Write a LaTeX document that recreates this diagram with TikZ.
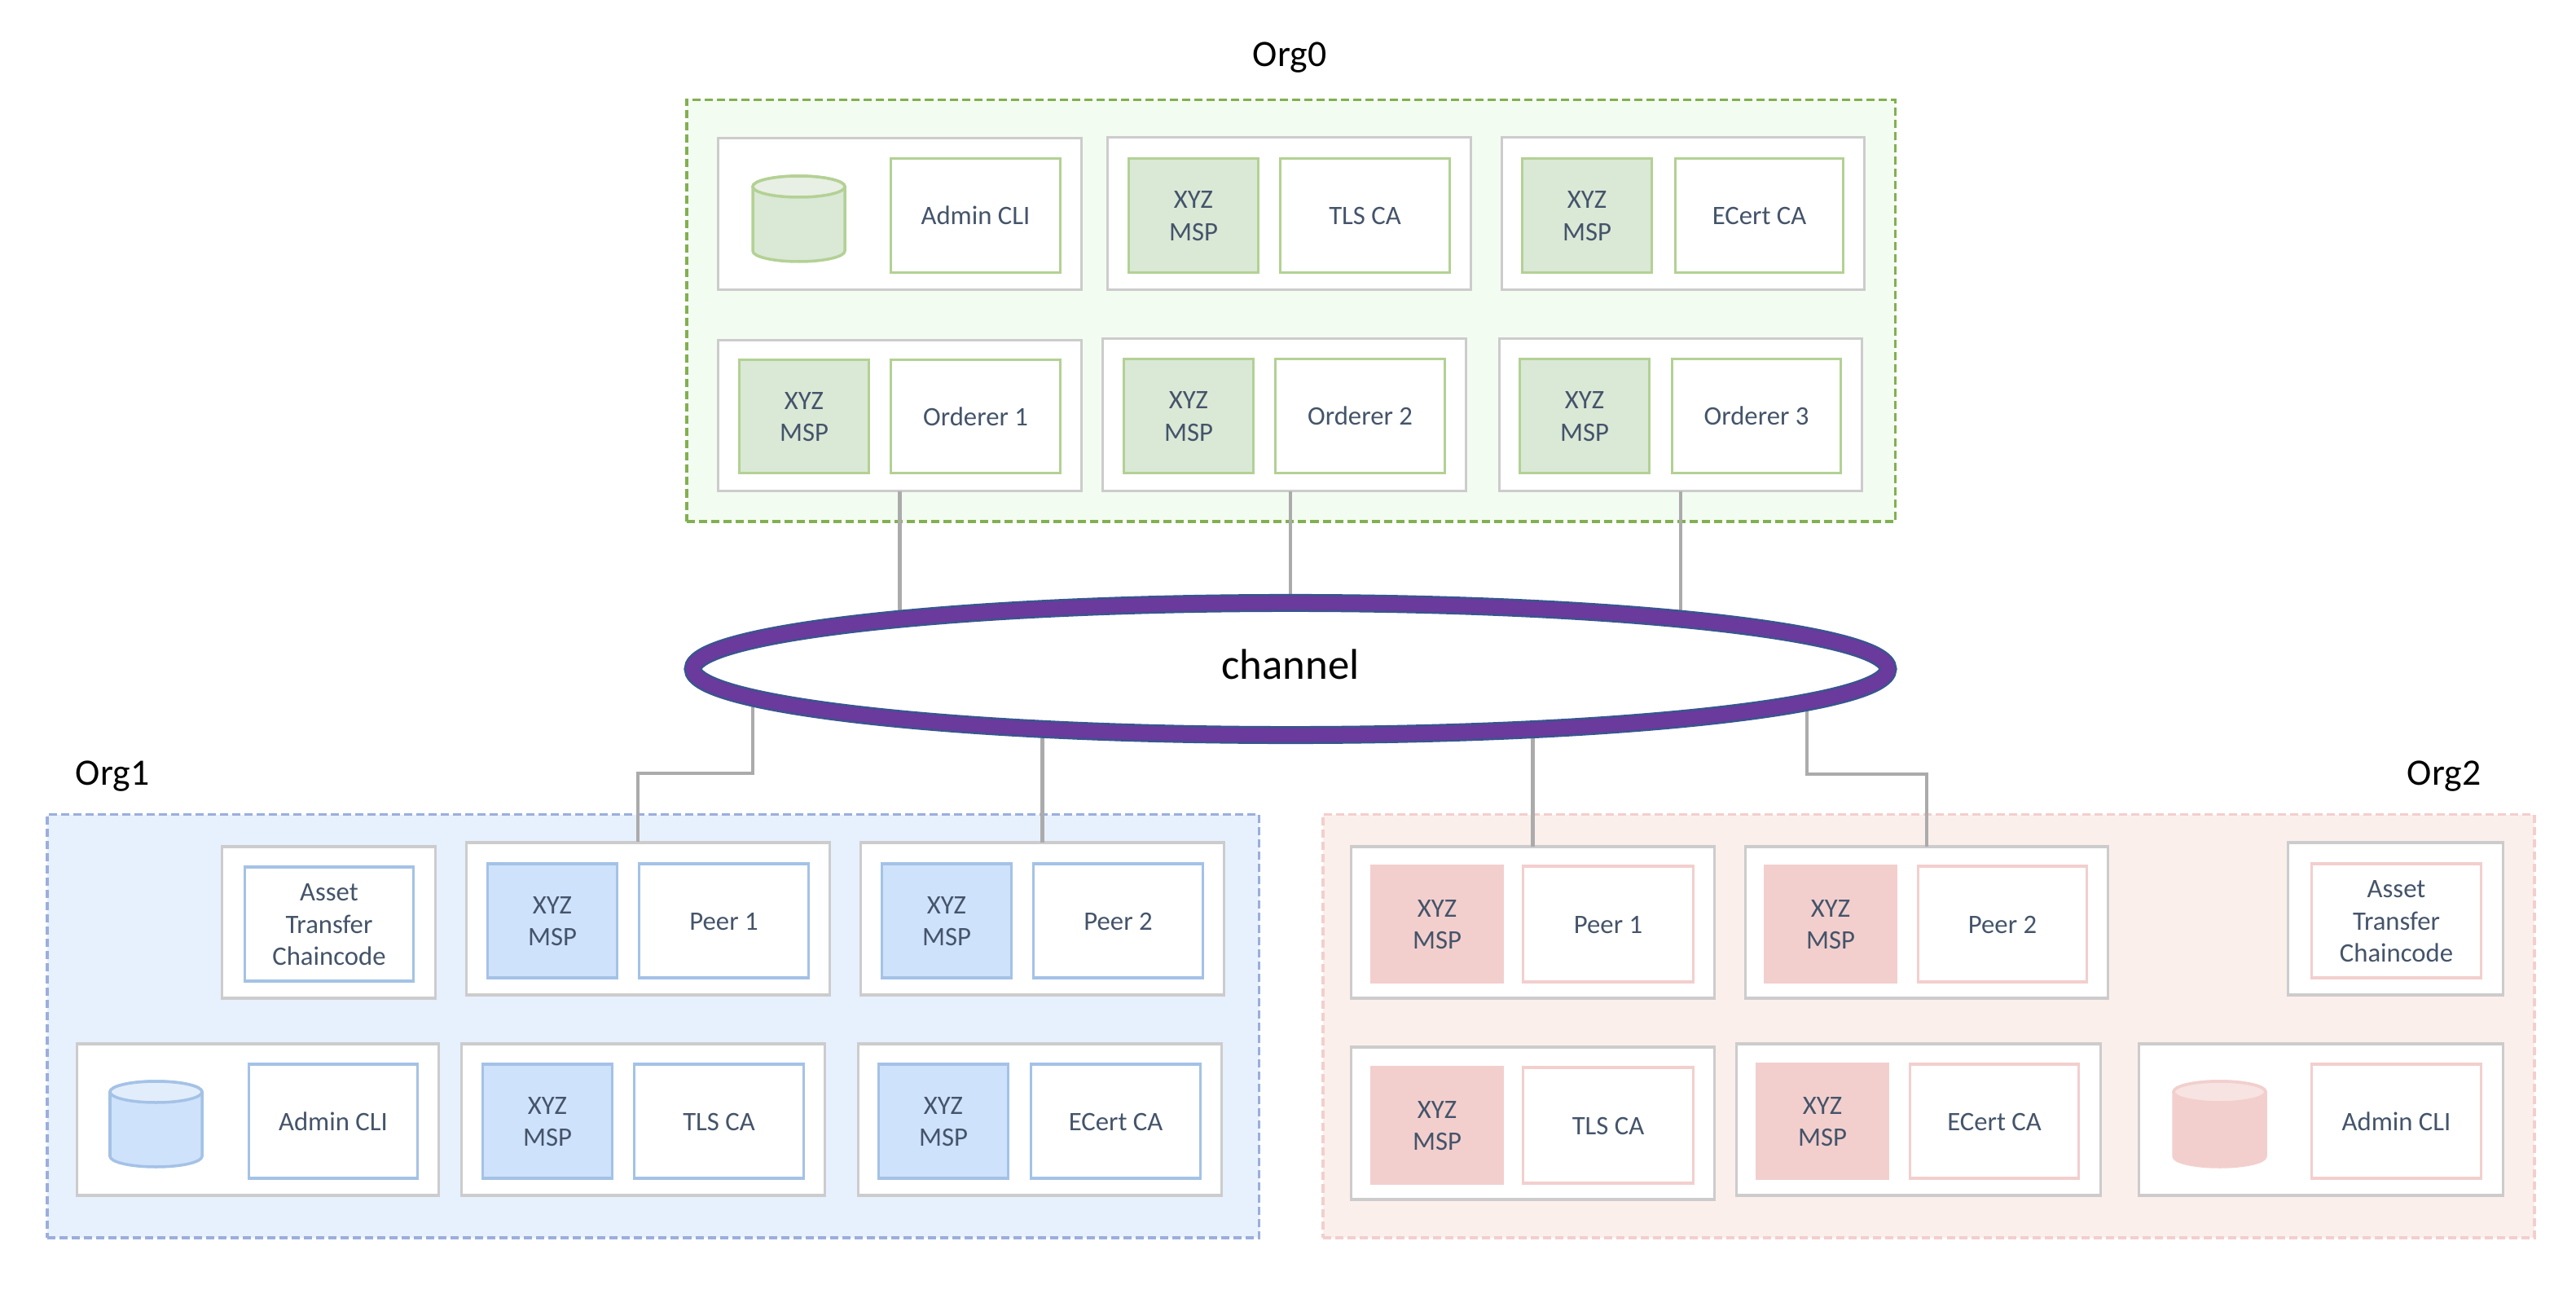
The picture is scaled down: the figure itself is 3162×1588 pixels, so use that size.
\documentclass[tikz,border=0pt]{standalone}
\usepackage{fontspec}
\setmainfont{Carlito}
\usetikzlibrary{shapes.geometric}
\pgfdeclarelayer{back}\pgfdeclarelayer{conn}\pgfdeclarelayer{front}
\pgfsetlayers{back,main,conn,front}
\definecolor{lbl}{HTML}{44546A}
\definecolor{grayb}{HTML}{CCCCCC}
\definecolor{wire}{HTML}{ABABAB}
\definecolor{gcont}{HTML}{F3FCF1}\definecolor{gdash}{HTML}{82B050}\definecolor{gfill}{HTML}{DAE8D6}\definecolor{gline}{HTML}{B3D194}\definecolor{gtop}{HTML}{E8EFE4}
\definecolor{bcont}{HTML}{E7F1FE}\definecolor{bdash}{HTML}{9BAEDC}\definecolor{bfill}{HTML}{CFE2FB}\definecolor{bline}{HTML}{A4C2E6}\definecolor{btop}{HTML}{E2EDFC}
\definecolor{rcont}{HTML}{FBEFEC}\definecolor{rdash}{HTML}{F2CFCD}\definecolor{rfill}{HTML}{F2CFCD}\definecolor{rline}{HTML}{F2CFCD}\definecolor{rtop}{HTML}{F7E3E1}
\definecolor{chanblue}{HTML}{3A5590}\definecolor{chanpurple}{HTML}{6A3A9C}
\tikzset{
  basebox/.style={rectangle,inner sep=0pt,outer sep=0pt,align=center,text=lbl,font=\fontsize{9.3}{11.3}\selectfont},
  outerbox/.style={basebox,draw=grayb,fill=white,line width=0.035cm},
  gwhite/.style={basebox,draw=gline,fill=white,line width=0.035cm},
  gmsp/.style={basebox,draw=gline,fill=gfill,line width=0.035cm},
  bwhite/.style={basebox,draw=bline,fill=white,line width=0.035cm},
  bmsp/.style={basebox,draw=bline,fill=bfill,line width=0.035cm},
  rwhite/.style={basebox,draw=rline,fill=white,line width=0.035cm},
  rmsp/.style={basebox,draw=rline,fill=rfill,line width=0.035cm},
  gorg/.style={basebox,draw=gdash,fill=gcont,line width=0.035cm,dash pattern=on 0.1cm off 0.05cm},
  borg/.style={basebox,draw=bdash,fill=bcont,line width=0.035cm,dash pattern=on 0.1cm off 0.05cm},
  rorg/.style={basebox,draw=rdash,fill=rcont,line width=0.035cm,dash pattern=on 0.1cm off 0.05cm},
  orglabel/.style={anchor=base,text=black,inner sep=0pt,font=\fontsize{13}{15}\selectfont},
  connector/.style={draw=wire,line width=0.045cm,line cap=butt,line join=miter},
  chan/.style={ellipse,inner sep=0pt,minimum width=14.66cm,minimum height=1.62cm,fill=white,draw=chanblue,line width=0.22cm,
     postaction={draw=chanpurple,line width=0.17cm}},
}
\newcommand\dyup{1}
\newcommand\lift[1]{\raisebox{-0.9pt}[\height][\depth]{\begin{tabular}{@{}c@{}}#1\end{tabular}}}
\newcommand\bx[7]{\node[#6,minimum width={(#4-#2-3)*0.01cm},minimum height={(#5-#3-3)*0.01cm}] (#1) at ({(#2+#4)/2},{(#3+#5)/2-\dyup}) {\lift{#7}};}
% cylinder: x0, y0, line colour, fill, top fill
\newcommand\cyl[5]{\begin{scope}[shift={(#1,#2)},line width=0.035cm,draw=#3]
  \filldraw[fill=#4] (0,13) -- (0,92) .. controls (0,99.2) and (25.3,105) .. (56.5,105) .. controls (87.7,105) and (113,99.2) .. (113,92) -- (113,13) .. controls (113,5.8) and (87.7,0) .. (56.5,0) .. controls (25.3,0) and (0,5.8) .. (0,13) -- cycle;
  \filldraw[fill=#5] (0,13) .. controls (0,20.2) and (25.3,26) .. (56.5,26) .. controls (87.7,26) and (113,20.2) .. (113,13) .. controls (113,5.8) and (87.7,0) .. (56.5,0) .. controls (25.3,0) and (0,5.8) .. (0,13) -- cycle;
\end{scope}}
\begin{document}
\begin{tikzpicture}[x=0.01cm,y=-0.01cm]
\useasboundingbox (0,0) rectangle (3162,1588);
\begin{pgfonlayer}{back}
  \bx{orgA}{841.5}{122}{2328}{642.5}{gorg}{}
  \bx{orgB}{56.5}{999}{1547}{1521.5}{borg}{}
  \bx{orgC}{1622.5}{999}{3112.5}{1521.5}{rorg}{}
\end{pgfonlayer}
\node[orglabel] (lA) at (1583,81.5) {Org0};
\node[orglabel] (lB) at (138,963) {Org1};
\node[orglabel] (lC) at (3000,963) {Org2};
% Org0
\bx{a11}{880}{169}{1329}{358}{outerbox}{}
\cyl{924}{216}{gline}{gfill}{gtop}
\bx{a11r}{1092}{194}{1303}{337}{gwhite}{Admin CLI}
\bx{a12}{1358}{168}{1807}{358}{outerbox}{}
\bx{a12m}{1384}{194}{1546}{337}{gmsp}{XYZ\\MSP}
\bx{a12r}{1570}{194}{1781}{337}{gwhite}{TLS CA}
\bx{a13}{1842}{168}{2290}{358}{outerbox}{}
\bx{a13m}{1867}{194}{2029}{337}{gmsp}{XYZ\\MSP}
\bx{a13r}{2055}{194}{2264}{337}{gwhite}{ECert CA}
\bx{a21}{880}{417}{1329}{605}{outerbox}{}
\bx{a21m}{906}{441}{1068}{583}{gmsp}{XYZ\\MSP}
\bx{a21r}{1092}{441}{1303}{583}{gwhite}{Orderer 1}
\bx{a22}{1352}{415}{1801}{605}{outerbox}{}
\bx{a22m}{1378}{440}{1540}{583}{gmsp}{XYZ\\MSP}
\bx{a22r}{1564}{440}{1775}{583}{gwhite}{Orderer 2}
\bx{a23}{1839}{415}{2287}{605}{outerbox}{}
\bx{a23m}{1864}{440}{2026}{583}{gmsp}{XYZ\\MSP}
\bx{a23r}{2051}{440}{2261}{583}{gwhite}{Orderer 3}
\renewcommand\dyup{2.5}
% Org1
\bx{b10}{271}{1040}{536}{1229}{outerbox}{}
\bx{b10r}{299}{1065}{509}{1208}{bwhite}{Asset\\Transfer\\Chaincode}
\bx{b11}{571}{1035}{1020}{1225}{outerbox}{}
\bx{b11m}{597}{1061}{759}{1204}{bmsp}{XYZ\\MSP}
\bx{b11r}{783}{1061}{994}{1204}{bwhite}{Peer 1}
\bx{b12}{1055}{1035}{1504}{1225}{outerbox}{}
\bx{b12m}{1081}{1061}{1243}{1204}{bmsp}{XYZ\\MSP}
\bx{b12r}{1267}{1061}{1478}{1204}{bwhite}{Peer 2}
\bx{b21}{93}{1282}{540}{1471}{outerbox}{}
\cyl{135}{1327}{bline}{bfill}{btop}
\bx{b21r}{304}{1307}{514}{1450}{bwhite}{Admin CLI}
\bx{b22}{565}{1282}{1014}{1471}{outerbox}{}
\bx{b22m}{591}{1307}{753}{1450}{bmsp}{XYZ\\MSP}
\bx{b22r}{777}{1307}{988}{1450}{bwhite}{TLS CA}
\bx{b23}{1052}{1282}{1501}{1471}{outerbox}{}
\bx{b23m}{1077}{1307}{1239}{1450}{bmsp}{XYZ\\MSP}
\bx{b23r}{1264}{1307}{1475}{1450}{bwhite}{ECert CA}
% Org2
\bx{c11}{1657}{1040}{2106}{1229}{outerbox}{}
\bx{c11m}{1682}{1064}{1846}{1209}{rmsp}{XYZ\\MSP}
\bx{c11r}{1868}{1064}{2080}{1209}{rwhite}{Peer 1}
\bx{c12}{2141}{1040}{2589}{1229}{outerbox}{}
\bx{c12m}{2165}{1064}{2329}{1209}{rmsp}{XYZ\\MSP}
\bx{c12r}{2353}{1064}{2563}{1209}{rwhite}{Peer 2}
\bx{c13}{2807}{1035}{3074}{1225}{outerbox}{}
\bx{c13r}{2836}{1061}{3047}{1204}{rwhite}{Asset\\Transfer\\Chaincode}
\bx{c21}{1657}{1286}{2106}{1476}{outerbox}{}
\bx{c21m}{1682}{1311}{1846}{1456}{rmsp}{XYZ\\MSP}
\bx{c21r}{1868}{1311}{2080}{1456}{rwhite}{TLS CA}
\bx{c22}{2130}{1282}{2580}{1471}{outerbox}{}
\bx{c22m}{2155}{1307}{2319}{1450}{rmsp}{XYZ\\MSP}
\bx{c22r}{2343}{1307}{2553}{1450}{rwhite}{ECert CA}
\bx{c23}{2624}{1282}{3074}{1471}{outerbox}{}
\cyl{2668}{1327}{rline}{rfill}{rtop}
\bx{c23r}{2836}{1307}{3047}{1450}{rwhite}{Admin CLI}
% channel
\begin{pgfonlayer}{front}
\node[chan] (channel) at (1584,821) {};
\node[anchor=base,inner sep=0pt,text=black,font=\fontsize{15}{17}\selectfont] (chanlabel) at (1584,833) {channel};
\end{pgfonlayer}
% connectors
\coordinate (j1a) at (924,821);
\coordinate (j1b) at (924,949);
\coordinate (j1c) at (783,949);
\coordinate (j1d) at (783,1033);
\coordinate (j2a) at (2218,821);
\coordinate (j2b) at (2218,950);
\begin{pgfonlayer}{conn}
\draw[connector] (a21.south) -- (a21.south |- channel.center);
\draw[connector] (channel.center |- a22.south) -- (channel.center);
\draw[connector] (a23.south) -- (a23.south |- channel.center);
\draw[connector] (j1a) -- (j1b) -- (j1c) -- (j1d);
\draw[connector] (b12.north) -- (b12.north |- channel.center);
\draw[connector] (c11.north) -- (c11.north |- channel.center);
\draw[connector] (j2a) -- (j2b) -- (j2b -| c12.north) -- (c12.north);
\end{pgfonlayer}
\end{tikzpicture}
\end{document}
